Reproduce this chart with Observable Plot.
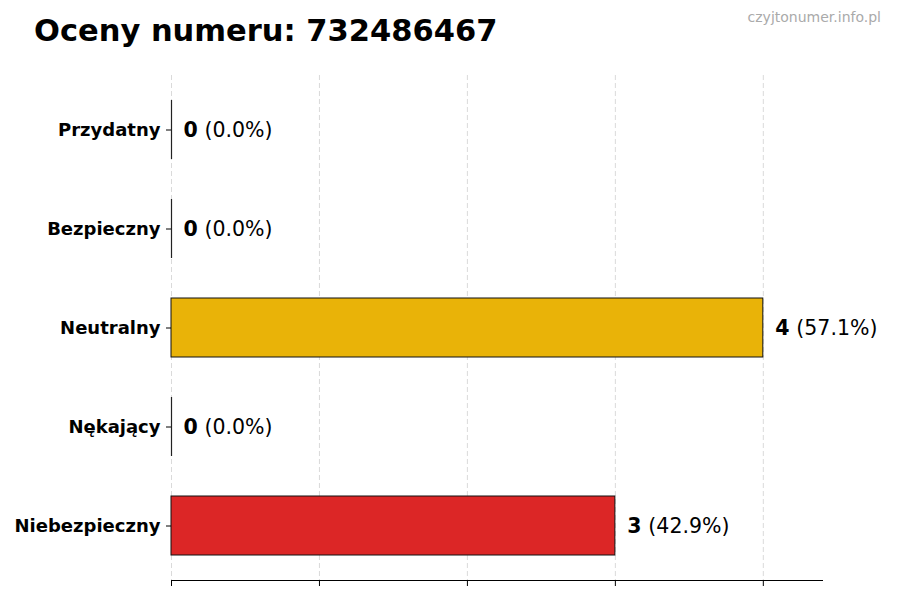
<!DOCTYPE html>
<html><head><meta charset="utf-8">
<script src="https://cdn.jsdelivr.net/npm/d3@7"></script>
<script src="https://cdn.jsdelivr.net/npm/@observablehq/plot@0.6"></script>
<style>
body{margin:0;background:#fff;font-family:"DejaVu Sans",sans-serif;}
#wrap{position:relative;width:900px;height:600px;}
#title{position:absolute;left:34px;top:13px;font-size:30.5px;font-weight:bold;color:#000;}
#wm{position:absolute;right:19px;top:9px;font-size:14px;color:#aaa;}
#chart{position:absolute;left:0;top:0;}
</style></head>
<body>
<div id="wrap"><div id="chart"></div><div id="title">Oceny numeru: 732486467</div><div id="wm">czyjtonumer.info.pl</div></div>
<script>
const categories = ["Przydatny","Bezpieczny","Neutralny","Nękający","Niebezpieczny"];
const counts = [0,0,4,0,3];
const percents = ["0.0%","0.0%","57.1%","0.0%","42.9%"];
const colors = ["#22a34a","#3b82f6","#e9b308","#f97316","#dc2626"];
const xTicks = [0,1,2,3,4];

const data = categories.map((c,i)=>({cat:c,n:counts[i],pct:"(" + percents[i] + ")",color:colors[i]}));

const plot = Plot.plot({
  width:900,height:600,
  marginLeft:171,marginRight:78,marginTop:75,marginBottom:20,
  style:{fontFamily:"DejaVu Sans, sans-serif",background:"transparent"},
  x:{domain:[0,4.4],label:null},
  y:{domain:categories,paddingInner:0.4,paddingOuter:0.23,label:null},
  marks:[
    Plot.gridX(xTicks,{stroke:"#d0d0d0",strokeOpacity:1,strokeDasharray:"5,3",strokeWidth:0.8}),
    Plot.barX(data.filter(d=>d.n>0),{x:"n",y:"cat",fill:"color",stroke:"#111",strokeWidth:1}),
    Plot.tickX(data.filter(d=>d.n===0),{x:"n",y:"cat",stroke:"#222",strokeWidth:1.2,strokeOpacity:1}),
    Plot.text(data,{x:"n",y:"cat",text:d=>String(d.n),dx:12,textAnchor:"start",fontWeight:"bold",fontSize:20.5,fill:"#000"}),
    Plot.text(data,{x:"n",y:"cat",text:"pct",dx:33,textAnchor:"start",fontSize:20.5,fill:"#000"}),
    Plot.axisX(xTicks,{tickFormat:()=>"",tickSize:6,stroke:"#000"}),
    Plot.frame({anchor:"bottom",stroke:"#000"}),
    Plot.axisY({tickSize:5,fontSize:18,fontWeight:"bold",tickPadding:6,fill:"#000"})
  ]
});
document.getElementById("chart").appendChild(plot);
</script>
</body></html>
